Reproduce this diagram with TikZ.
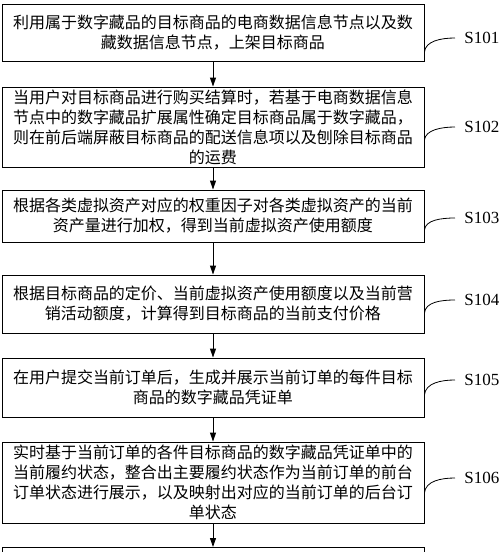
\documentclass[tikz,border=0pt]{standalone}
\usepackage{fontspec}
\setmainfont{Noto Sans CJK SC}
\newfontfamily\stepfont{Liberation Serif}
\usetikzlibrary{arrows.meta,calc}

\begin{document}
\begin{tikzpicture}[x=1pt,y=-1pt,line width=0.9pt,
		stepbox/.style={draw,rectangle,minimum width=422pt,text width=404pt,inner xsep=9pt,inner ysep=0pt,align=center,font=\fontsize{16}{20}\selectfont},
		flow/.style={-{Triangle[length=9pt,width=6pt]}},
		steplabel/.style={anchor=west,inner sep=0pt,font=\stepfont\fontsize{17}{20}\selectfont},
		tag/.style={line width=0.8pt}]
			\useasboundingbox (0,0) rectangle (500,552);
			\clip (0,0) rectangle (500,552);
			% process boxes
			\node[stepbox,minimum height=57pt] (b1) at (213,32.5) {利用属于数字藏品的目标商品的电商数据信息节点以及数\\藏数据信息节点，上架目标商品};
			\node[stepbox,minimum height=80pt] (b2) at (213,127) {当用户对目标商品进行购买结算时，若基于电商数据信息\\节点中的数字藏品扩展属性确定目标商品属于数字藏品，\\则在前后端屏蔽目标商品的配送信息项以及刨除目标商品\\的运费};
			\node[stepbox,minimum height=52pt] (b3) at (213,216) {根据各类虚拟资产对应的权重因子对各类虚拟资产的当前\\资产量进行加权，得到当前虚拟资产使用额度};
			\node[stepbox,minimum height=58pt] (b4) at (213,304) {根据目标商品的定价、当前虚拟资产使用额度以及当前营\\销活动额度，计算得到目标商品的当前支付价格};
			\node[stepbox,minimum height=59pt] (b5) at (213,387.5) {在用户提交当前订单后，生成并展示当前订单的每件目标\\商品的数字藏品凭证单};
			\node[stepbox,minimum height=81pt] (b6) at (213,482.5) {实时基于当前订单的各件目标商品的数字藏品凭证单中的\\当前履约状态，整合出主要履约状态作为当前订单的前台\\订单状态进行展示，以及映射出对应的当前订单的后台订\\单状态};
			\node[stepbox,minimum height=60pt,anchor=north] (b7) at (213,547) {};
			% arrows
			\draw[flow] (b1) -- (b2);
			\draw[flow] (b2) -- (b3);
			\draw[flow] (b3) -- (b4);
			\draw[flow] (b4) -- (b5);
			\draw[flow] (b5) -- (b6);
			\draw[flow] (b6) -- (b7);
			% step labels
			\node[steplabel] (s1) at (464,38) {S101};
			\node[steplabel] (s2) at (464,127) {S102};
			\node[steplabel] (s3) at (464,218) {S103};
			\node[steplabel] (s4) at (464,300) {S104};
			\node[steplabel] (s5) at (464,380) {S105};
			\node[steplabel] (s6) at (464,478) {S106};
			\draw[tag] ($(b1.east)+(0,19.5)$) .. controls +(1,-11) and +(-14,0) .. ($(s1.west)+(-9,0)$);
			\draw[tag] ($(b2.east)+(0,13)$) .. controls +(1,-10) and +(-14,0) .. ($(s2.west)+(-9,0)$);
			\draw[tag] ($(b3.east)+(0,14)$) .. controls +(1,-10) and +(-14,0) .. ($(s3.west)+(-9,0)$);
			\draw[tag] ($(b4.east)+(0,9)$) .. controls +(1,-11) and +(-14,0) .. ($(s4.west)+(-9,0)$);
			\draw[tag] ($(b5.east)+(0,7.5)$) .. controls +(1,-12) and +(-14,0) .. ($(s5.west)+(-9,0)$);
			\draw[tag] ($(b6.east)+(0,10.5)$) .. controls +(1,-12) and +(-14,0) .. ($(s6.west)+(-9,0)$);
		\end{tikzpicture}
\end{document}
